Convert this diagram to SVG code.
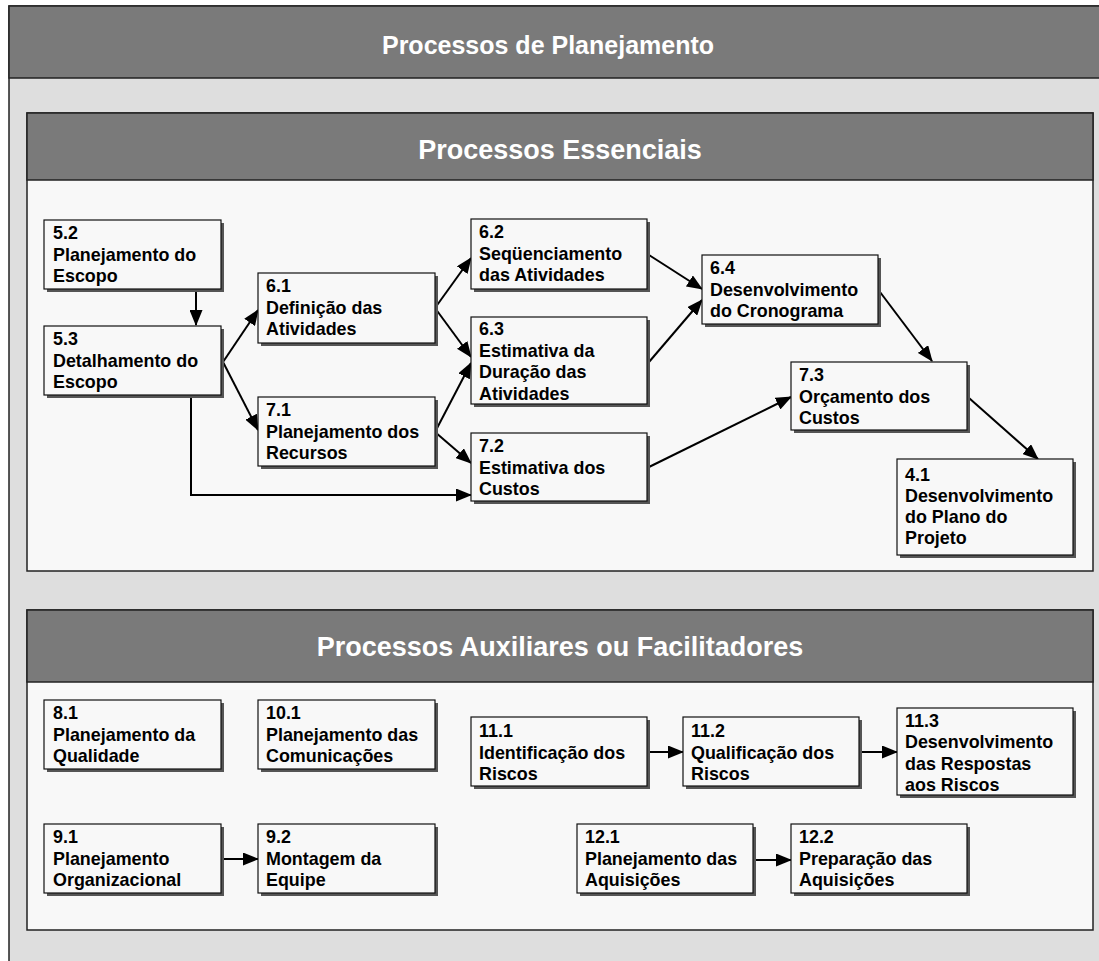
<svg xmlns="http://www.w3.org/2000/svg" width="1099" height="961" viewBox="0 0 1099 961">
  <style>
    .frame { fill: #dedede; stroke: #222; stroke-width: 1.5; }
    .panel { fill: #f8f8f8; stroke: #222; stroke-width: 1.5; }
    .hdr { fill: #7a7a7a; stroke: #222; stroke-width: 1.5; }
    .title { font-family: "Liberation Sans", Arial, sans-serif; font-weight: bold; fill: #fff; text-anchor: middle; }
    .shadow { fill: #555; }
    .box { fill: #f8f8f8; stroke: #111; stroke-width: 1.2; }
    .lbl { font-family: "Liberation Sans", Arial, sans-serif; font-weight: bold; font-size: 17.9px; fill: #000; }
    .edge { fill: none; stroke: #000; stroke-width: 2; marker-end: url(#arrow); }
  </style>
  <defs>
    <marker id="arrow" markerUnits="userSpaceOnUse" markerWidth="16" markerHeight="13" refX="15" refY="6.5" orient="auto">
      <path d="M0,0 L16,6.5 L0,13 z" fill="#000"/>
    </marker>
  </defs>

  <!-- outer frame -->
  <g id="frame-planejamento">
    <rect class="frame" x="9" y="6" width="1100" height="970"/>
    <rect class="hdr" x="9" y="6" width="1100" height="72"/>
    <text class="title" x="548" y="54" font-size="25">Processos de Planejamento</text>
  </g>

  <!-- core processes panel -->
  <g id="panel-essenciais">
    <rect class="panel" x="27" y="113" width="1066" height="458"/>
    <rect class="hdr" x="27" y="113" width="1066" height="67"/>
    <text class="title" x="560" y="159" font-size="27">Processos Essenciais</text>
  </g>

  <!-- facilitating processes panel -->
  <g id="panel-auxiliares">
    <rect class="panel" x="27" y="610" width="1066" height="320"/>
    <rect class="hdr" x="27" y="610" width="1066" height="72"/>
    <text class="title" x="560" y="656" font-size="27">Processos Auxiliares ou Facilitadores</text>
  </g>

  <!-- connectors -->
  <g id="connectors">
    <line class="edge" x1="196" y1="292" x2="196" y2="325"/>
    <line class="edge" x1="223" y1="362" x2="258" y2="310"/>
    <line class="edge" x1="223" y1="362" x2="258" y2="430"/>
    <polyline class="edge" points="191,398 191,495 471,495"/>
    <line class="edge" x1="435" y1="308" x2="471" y2="258"/>
    <line class="edge" x1="435" y1="308" x2="471" y2="357"/>
    <line class="edge" x1="435" y1="432" x2="471" y2="363"/>
    <line class="edge" x1="435" y1="432" x2="471" y2="463"/>
    <line class="edge" x1="649" y1="255" x2="702" y2="289"/>
    <line class="edge" x1="649" y1="362" x2="702" y2="300"/>
    <line class="edge" x1="649" y1="467" x2="791" y2="397"/>
    <line class="edge" x1="880" y1="292" x2="932" y2="361"/>
    <line class="edge" x1="969" y1="398" x2="1038" y2="459"/>
    <line class="edge" x1="223" y1="859" x2="258" y2="859"/>
    <line class="edge" x1="650" y1="752" x2="683" y2="752"/>
    <line class="edge" x1="862" y1="752" x2="897" y2="752"/>
    <line class="edge" x1="756" y1="860" x2="791" y2="860"/>
  </g>

  <!-- process nodes -->
  <g id="n5-2">
    <rect class="shadow" x="47" y="223" width="177" height="69"/>
    <rect class="box" x="44" y="220" width="177" height="69"/>
    <text class="lbl" x="53" y="239"><tspan x="53">5.2</tspan><tspan x="53" dy="21.5">Planejamento do</tspan><tspan x="53" dy="21.5">Escopo</tspan></text>
  </g>
  <g id="n5-3">
    <rect class="shadow" x="47" y="329" width="177" height="69"/>
    <rect class="box" x="44" y="326" width="177" height="69"/>
    <text class="lbl" x="53" y="345"><tspan x="53">5.3</tspan><tspan x="53" dy="21.5">Detalhamento do</tspan><tspan x="53" dy="21.5">Escopo</tspan></text>
  </g>
  <g id="n6-1">
    <rect class="shadow" x="261" y="276" width="177" height="70"/>
    <rect class="box" x="258" y="273" width="177" height="70"/>
    <text class="lbl" x="266" y="292"><tspan x="266">6.1</tspan><tspan x="266" dy="21.5">Definição das</tspan><tspan x="266" dy="21.5">Atividades</tspan></text>
  </g>
  <g id="n7-1">
    <rect class="shadow" x="261" y="400" width="177" height="69"/>
    <rect class="box" x="258" y="397" width="177" height="69"/>
    <text class="lbl" x="266" y="416"><tspan x="266">7.1</tspan><tspan x="266" dy="21.5">Planejamento dos</tspan><tspan x="266" dy="21.5">Recursos</tspan></text>
  </g>
  <g id="n6-2">
    <rect class="shadow" x="474" y="222" width="176" height="70"/>
    <rect class="box" x="471" y="219" width="176" height="70"/>
    <text class="lbl" x="479" y="238"><tspan x="479">6.2</tspan><tspan x="479" dy="21.5">Seqüenciamento</tspan><tspan x="479" dy="21.5">das Atividades</tspan></text>
  </g>
  <g id="n6-3">
    <rect class="shadow" x="474" y="320" width="176" height="87"/>
    <rect class="box" x="471" y="317" width="176" height="87"/>
    <text class="lbl" x="479" y="335"><tspan x="479">6.3</tspan><tspan x="479" dy="21.5">Estimativa da</tspan><tspan x="479" dy="21.5">Duração das</tspan><tspan x="479" dy="21.5">Atividades</tspan></text>
  </g>
  <g id="n7-2">
    <rect class="shadow" x="474" y="436" width="176" height="68"/>
    <rect class="box" x="471" y="433" width="176" height="68"/>
    <text class="lbl" x="479" y="452"><tspan x="479">7.2</tspan><tspan x="479" dy="21.5">Estimativa dos</tspan><tspan x="479" dy="21.5">Custos</tspan></text>
  </g>
  <g id="n6-4">
    <rect class="shadow" x="705" y="258" width="176" height="69"/>
    <rect class="box" x="702" y="255" width="176" height="69"/>
    <text class="lbl" x="710" y="274"><tspan x="710">6.4</tspan><tspan x="710" dy="21.5">Desenvolvimento</tspan><tspan x="710" dy="21.5">do Cronograma</tspan></text>
  </g>
  <g id="n7-3">
    <rect class="shadow" x="794" y="365" width="176" height="68"/>
    <rect class="box" x="791" y="362" width="176" height="68"/>
    <text class="lbl" x="799" y="381"><tspan x="799">7.3</tspan><tspan x="799" dy="21.5">Orçamento dos</tspan><tspan x="799" dy="21.5">Custos</tspan></text>
  </g>
  <g id="n4-1">
    <rect class="shadow" x="900" y="462" width="176" height="96"/>
    <rect class="box" x="897" y="459" width="176" height="96"/>
    <text class="lbl" x="905" y="481"><tspan x="905">4.1</tspan><tspan x="905" dy="21">Desenvolvimento</tspan><tspan x="905" dy="21">do Plano do</tspan><tspan x="905" dy="21">Projeto</tspan></text>
  </g>

  <g id="n8-1">
    <rect class="shadow" x="47" y="703" width="177" height="69"/>
    <rect class="box" x="44" y="700" width="177" height="69"/>
    <text class="lbl" x="53" y="719"><tspan x="53">8.1</tspan><tspan x="53" dy="21.5">Planejamento da</tspan><tspan x="53" dy="21.5">Qualidade</tspan></text>
  </g>
  <g id="n10-1">
    <rect class="shadow" x="261" y="703" width="177" height="69"/>
    <rect class="box" x="258" y="700" width="177" height="69"/>
    <text class="lbl" x="266" y="719"><tspan x="266">10.1</tspan><tspan x="266" dy="21.5">Planejamento das</tspan><tspan x="266" dy="21.5">Comunicações</tspan></text>
  </g>
  <g id="n9-1">
    <rect class="shadow" x="47" y="827" width="177" height="69"/>
    <rect class="box" x="44" y="824" width="177" height="69"/>
    <text class="lbl" x="53" y="843"><tspan x="53">9.1</tspan><tspan x="53" dy="21.5">Planejamento</tspan><tspan x="53" dy="21.5">Organizacional</tspan></text>
  </g>
  <g id="n9-2">
    <rect class="shadow" x="261" y="827" width="177" height="69"/>
    <rect class="box" x="258" y="824" width="177" height="69"/>
    <text class="lbl" x="266" y="843"><tspan x="266">9.2</tspan><tspan x="266" dy="21.5">Montagem da</tspan><tspan x="266" dy="21.5">Equipe</tspan></text>
  </g>
  <g id="n11-1">
    <rect class="shadow" x="474" y="720" width="176" height="69"/>
    <rect class="box" x="471" y="717" width="176" height="69"/>
    <text class="lbl" x="479" y="737"><tspan x="479">11.1</tspan><tspan x="479" dy="21.5">Identificação dos</tspan><tspan x="479" dy="21.5">Riscos</tspan></text>
  </g>
  <g id="n11-2">
    <rect class="shadow" x="686" y="720" width="176" height="69"/>
    <rect class="box" x="683" y="717" width="176" height="69"/>
    <text class="lbl" x="691" y="737"><tspan x="691">11.2</tspan><tspan x="691" dy="21.5">Qualificação dos</tspan><tspan x="691" dy="21.5">Riscos</tspan></text>
  </g>
  <g id="n11-3">
    <rect class="shadow" x="900" y="711" width="176" height="87"/>
    <rect class="box" x="897" y="708" width="176" height="87"/>
    <text class="lbl" x="905" y="727"><tspan x="905">11.3</tspan><tspan x="905" dy="21.3">Desenvolvimento</tspan><tspan x="905" dy="21.3">das Respostas</tspan><tspan x="905" dy="21.3">aos Riscos</tspan></text>
  </g>
  <g id="n12-1">
    <rect class="shadow" x="580" y="827" width="176" height="69"/>
    <rect class="box" x="577" y="824" width="176" height="69"/>
    <text class="lbl" x="585" y="843"><tspan x="585">12.1</tspan><tspan x="585" dy="21.5">Planejamento das</tspan><tspan x="585" dy="21.5">Aquisições</tspan></text>
  </g>
  <g id="n12-2">
    <rect class="shadow" x="794" y="827" width="176" height="69"/>
    <rect class="box" x="791" y="824" width="176" height="69"/>
    <text class="lbl" x="799" y="843"><tspan x="799">12.2</tspan><tspan x="799" dy="21.5">Preparação das</tspan><tspan x="799" dy="21.5">Aquisições</tspan></text>
  </g>
</svg>
